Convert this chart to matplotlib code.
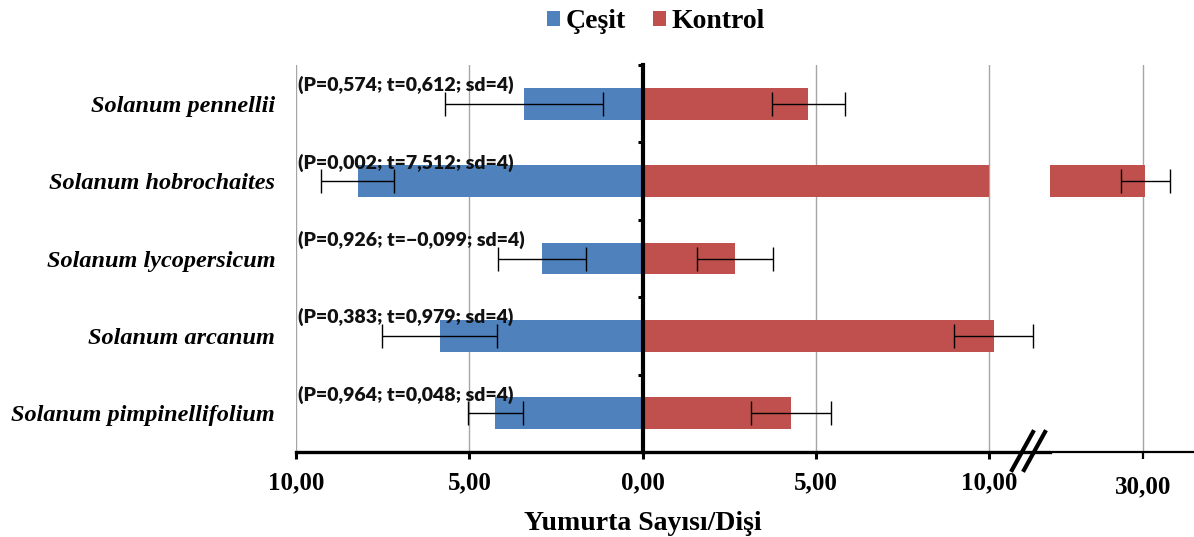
import matplotlib
matplotlib.use("Agg")
import matplotlib.pyplot as plt
import numpy as np
from matplotlib.patches import Patch
from matplotlib.lines import Line2D
from matplotlib.ticker import FuncFormatter

# ---------------- data ----------------
species = ["Solanum pennellii", "Solanum hobrochaites", "Solanum lycopersicum",
           "Solanum arcanum", "Solanum pimpinellifolium"]
cesit = [3.42, 8.22, 2.91, 5.85, 4.25]
cesit_err = [2.28, 1.06, 1.27, 1.66, 0.79]
kontrol = [4.78, 30.07, 2.66, 10.12, 4.28]
kontrol_err = [1.05, 0.71, 1.09, 1.14, 1.15]
stats = ["(P=0,574; t=0,612; sd=4)",
         "(P=0,002; t=7,512; sd=4)",
         "(P=0,926; t=\u22120,099; sd=4)",
         "(P=0,383; t=0,979; sd=4)",
         "(P=0,964; t=0,048; sd=4)"]
series_names = ["Çeşit", "Kontrol"]
ticks_main = [-10, -5, 0, 5, 10]
ticks_upper = [30]
break_at = 10.0

BLUE = "#4F81BD"
RED = "#C0504D"
GRID = "#a6a6a6"
SERIF = "Liberation Serif"
SANS = ["Lato", "DejaVu Sans"]

W, H = 1194, 537
fig = plt.figure(figsize=(W / 100, H / 100), dpi=100)

def px_rect(x0, y0, x1, y1):
    return [x0 / W, 1 - y1 / H, (x1 - x0) / W, (y1 - y0) / H]

top_px, bot_px = 65, 452
ax1 = fig.add_axes(px_rect(296, top_px, 1050, bot_px))
ax2 = fig.add_axes(px_rect(1050, top_px, 1194, bot_px))

main_xlim = (-10, (1050 - 643) / 34.65)
upper_xlim = (30 - (1143 - 1050) / 34.65, 30 + (1194 - 1143) / 34.65)

y = np.arange(len(species))
c = np.array(cesit)
k = np.array(kontrol)
broken = k > main_xlim[1]
k_main = np.where(broken, break_at, k)

ekw = dict(ecolor="black", elinewidth=1.0, capsize=8.5, capthick=1.0)
bh = 0.41

ax1.barh(y, -c, height=bh, color=BLUE, zorder=2)
ax1.errorbar(-c, y, xerr=cesit_err, fmt="none", zorder=3, **ekw)
ax1.barh(y, k_main, height=bh, color=RED, zorder=2)
ok = ~broken
ax1.errorbar(k[ok], y[ok], xerr=np.array(kontrol_err)[ok], fmt="none", zorder=3, **ekw)

ax2.barh(y, k, height=bh, color=RED, zorder=2)
ax2.errorbar(k[broken], y[broken], xerr=np.array(kontrol_err)[broken], fmt="none",
             zorder=3, **ekw)

ax1.set_xlim(*main_xlim)
ax2.set_xlim(*upper_xlim)
for ax in (ax1, ax2):
    ax.set_ylim(len(species) - 0.5, -0.5)
    for s in ("top", "right", "left"):
        ax.spines[s].set_visible(False)
    ax.xaxis.grid(True, color=GRID, linewidth=1.0, zorder=0)
    ax.set_axisbelow(True)

fmt = FuncFormatter(lambda v, p: f"{abs(v):.2f}".replace(".", ","))
ax1.set_xticks(ticks_main)
ax2.set_xticks(ticks_upper)
for ax in (ax1, ax2):
    ax.xaxis.set_major_formatter(fmt)
    for lab in ax.get_xticklabels():
        lab.set_fontfamily(SERIF)
        lab.set_fontweight("bold")
        lab.set_fontsize(18)
ax1.tick_params(axis="x", length=5, width=2.2, pad=9)
ax2.tick_params(axis="x", length=5, width=1.6, pad=12)
ax1.spines["bottom"].set_linewidth(2.4)
ax2.spines["bottom"].set_linewidth(1.6)

ax1.set_yticks(y)
ax1.set_yticklabels(species, fontfamily=SERIF, fontweight="bold", fontstyle="italic",
                    fontsize=17.5)
ax1.tick_params(axis="y", length=0, pad=15)
ax2.tick_params(axis="y", length=0, labelleft=False)

# zero axis with category boundary ticks
ax0 = fig.add_axes(px_rect(296, top_px, 1050, bot_px))
ax0.set_xlim(ax1.get_xlim())
ax0.set_ylim(ax1.get_ylim())
ax0.patch.set_visible(False)
for s in ("top", "right", "bottom"):
    ax0.spines[s].set_visible(False)
ax0.spines["left"].set_position(("data", 0))
ax0.spines["left"].set_linewidth(3.0)
ax0.xaxis.set_visible(False)
ax0.set_yticks(np.arange(len(species)) - 0.5)
ax0.tick_params(axis="y", length=3.5, width=2.2, labelleft=False, direction="out")

# statistics annotations
for yi, s in zip(y, stats):
    ax1.text(-9.95, yi - 0.24, s, fontfamily=SANS, fontweight="heavy", fontsize=14,
             ha="left", va="center", color="#111111", zorder=5)

# axis break marks
for dx in (0, 12):
    fig.add_artist(Line2D([(1012 + dx) / W, (1033 + dx) / W],
                          [1 - 470 / H, 1 - 432 / H], color="black", linewidth=3.0,
                          transform=fig.transFigure))

# x label
fig.text(643 / W, 1 - 523 / H, "Yumurta Sayısı/Dişi", fontfamily=SERIF,
         fontweight="bold", fontsize=20, ha="center", va="center")

# legend
handles = [Patch(facecolor=BLUE), Patch(facecolor=RED)]
fig.legend(handles, series_names, loc="center", bbox_to_anchor=(656 / W, 1 - 22 / H),
           ncol=2, frameon=False, prop=dict(family=SERIF, weight="bold", size=20),
           handlelength=0.45, handleheight=0.45, handletextpad=0.2, columnspacing=1.0)

fig.savefig("out.png", dpi=100)
